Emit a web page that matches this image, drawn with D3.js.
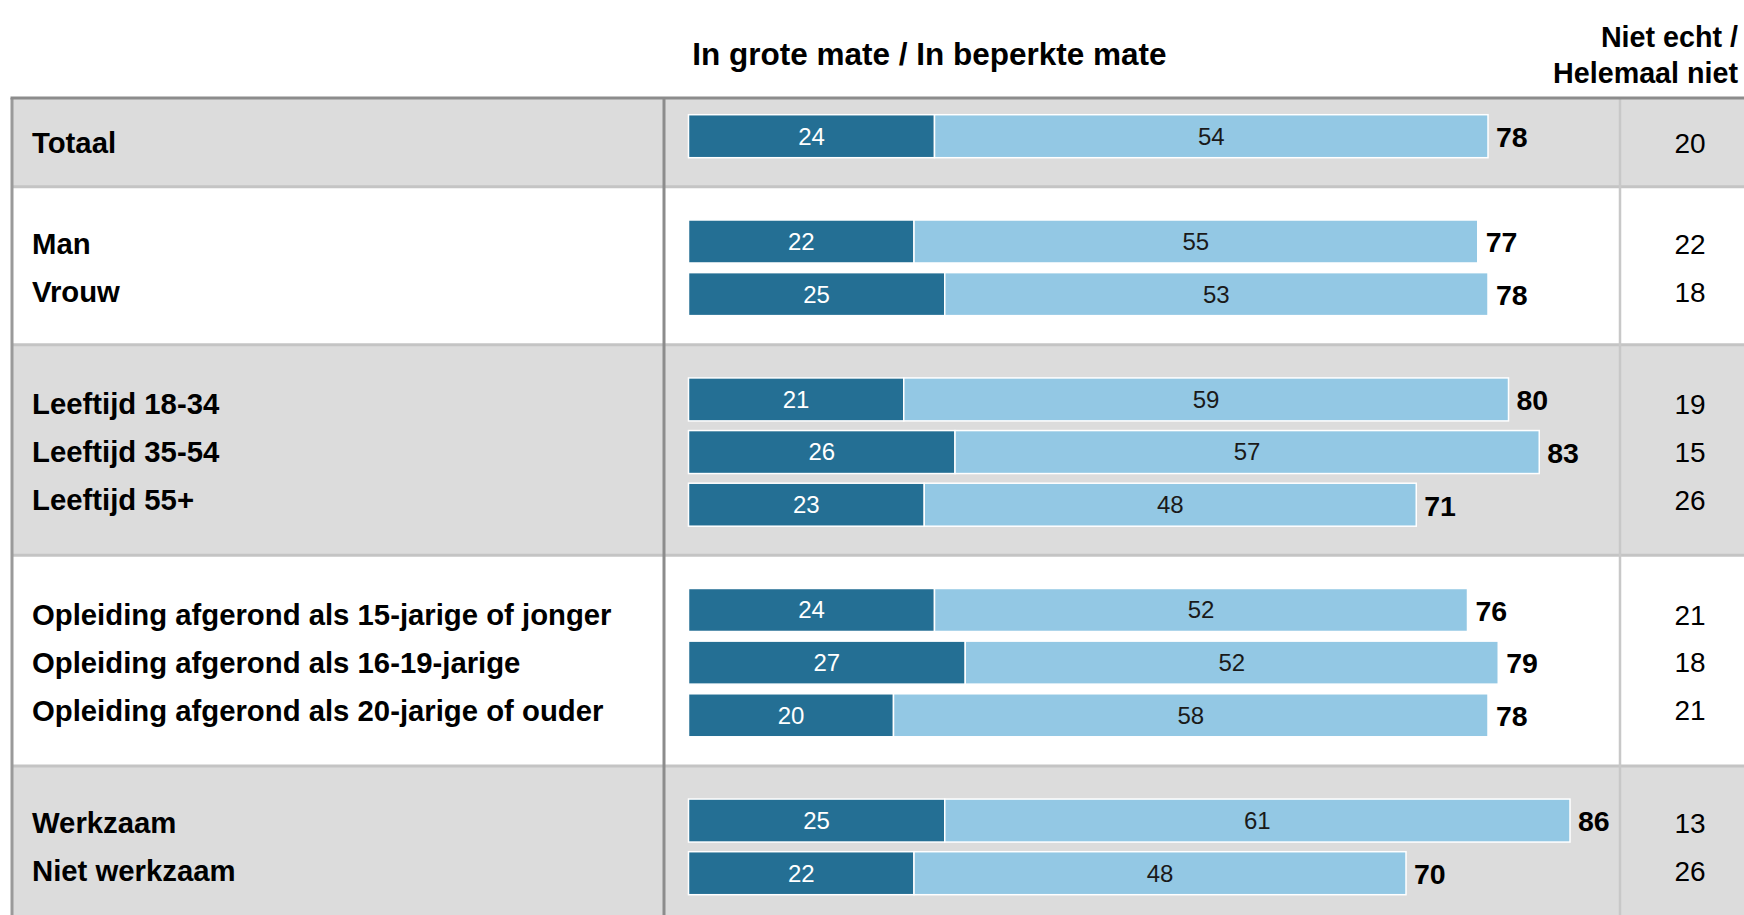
<!DOCTYPE html>
<html>
<head>
<meta charset="utf-8">
<script src="https://cdn.jsdelivr.net/npm/d3@7"></script>
<style>
  body { margin: 0; background: #fff; }
  svg { display: block; font-family: "Liberation Sans", Arial, sans-serif; }
</style>
</head>
<body>
<svg width="1744" height="915"></svg>
<script>
// data
const labels = [
  "Totaal",
  "Man", "Vrouw",
  "Leeftijd 18-34", "Leeftijd 35-54", "Leeftijd 55+",
  "Opleiding afgerond als 15-jarige of jonger",
  "Opleiding afgerond als 16-19-jarige",
  "Opleiding afgerond als 20-jarige of ouder",
  "Werkzaam", "Niet werkzaam"
];
const groupOf = [0, 1, 1, 2, 2, 2, 3, 3, 3, 4, 4];
const inGroteMate = [24, 22, 25, 21, 26, 23, 24, 27, 20, 25, 22];
const inBeperkteMate = [54, 55, 53, 59, 57, 48, 52, 52, 58, 61, 48];
const totaal = [78, 77, 78, 80, 83, 71, 76, 79, 78, 86, 70];
const nietEcht = [20, 22, 18, 19, 15, 26, 21, 18, 21, 13, 26];

const svg = d3.select("svg");
const width = +svg.attr("width");
const height = +svg.attr("height");

const dark = "#246f94", light = "#93c8e4";
const leftX = 12, divX = 664, rightDivX = 1620;

let rows = labels.map((l, i) => ({
  label: l, group: groupOf[i], slot: i + groupOf[i],
  a: inGroteMate[i], b: inBeperkteMate[i], tot: totaal[i], niet: nietEcht[i]
}));

// each group adds one empty slot before it
let y = d3.scaleLinear().domain([0, 14]).range([136.2, 873.2]);
let x = d3.scaleLinear().domain([0, 100]).range([688.5, 1713.5]);
const barH = 43;

// label positions: slightly tighter than bars, centered on group
let groups = d3.groups(rows, d => d.group);
groups.forEach(([g, rs]) => {
  let c = d3.mean(rs, r => y(r.slot));
  rs.forEach((r, j) => {
    r.ly = c + (j - (rs.length - 1) / 2) * 47.9 + (rs.length === 1 ? 7 : 0);
  });
});

// group bands
let bands = groups.map(([g, rs], k) => {
  let first = d3.min(rs, r => r.slot);
  let last = d3.max(rs, r => r.slot);
  let top = k === 0 ? 98 : y(first - 1) - 2;
  let bottom = k === groups.length - 1 ? height : y(last + 1) - 2;
  return {g, top, bottom};
});

svg.append("g").selectAll("rect")
  .data(bands)
  .enter().append("rect")
    .attr("x", leftX)
    .attr("y", d => d.top)
    .attr("width", width - leftX)
    .attr("height", d => d.bottom - d.top)
    .attr("fill", d => d.g % 2 === 0 ? "#dcdcdc" : "#fff");

// separators between groups
svg.append("g").selectAll("line")
  .data(bands.slice(1))
  .enter().append("line")
    .attr("x1", leftX).attr("x2", width)
    .attr("y1", d => d.top).attr("y2", d => d.top)
    .attr("stroke", "#c4c4c4")
    .attr("stroke-width", 3);

// frame
svg.append("line")
  .attr("x1", rightDivX).attr("x2", rightDivX)
  .attr("y1", 98).attr("y2", height)
  .attr("stroke", "#c8c8c8").attr("stroke-width", 2.5);
svg.append("line")
  .attr("x1", divX).attr("x2", divX)
  .attr("y1", 98).attr("y2", height)
  .attr("stroke", "#8c8c8c").attr("stroke-width", 3);
svg.append("line")
  .attr("x1", leftX).attr("x2", leftX)
  .attr("y1", 98).attr("y2", height)
  .attr("stroke", "#9a9a9a").attr("stroke-width", 3);
svg.append("line")
  .attr("x1", leftX - 1.5).attr("x2", width)
  .attr("y1", 98).attr("y2", 98)
  .attr("stroke", "#8c8c8c").attr("stroke-width", 3);

// headers
svg.append("text")
  .attr("x", (x(0) + x(47)) / 2)
  .attr("y", 65)
  .attr("text-anchor", "middle")
  .attr("font-weight", "bold")
  .attr("font-size", 31.5)
  .text("In grote mate / In beperkte mate");

svg.append("text")
  .attr("x", 1738).attr("y", 47)
  .attr("text-anchor", "end")
  .attr("font-weight", "bold")
  .attr("font-size", 28.7)
  .text("Niet echt /");
svg.append("text")
  .attr("x", 1738).attr("y", 83)
  .attr("text-anchor", "end")
  .attr("font-weight", "bold")
  .attr("font-size", 28.7)
  .text("Helemaal niet");

// row labels
svg.append("g").selectAll("text")
  .data(rows)
  .enter().append("text")
    .attr("x", 32)
    .attr("y", d => d.ly)
    .attr("dy", "0.35em")
    .attr("font-weight", "bold")
    .attr("font-size", 29.3)
    .attr("fill", "#000")
    .text(d => d.label);

// bars
let row = svg.append("g").selectAll("g")
  .data(rows)
  .enter().append("g")
    .attr("transform", d => `translate(0, ${y(d.slot)})`);

row.append("rect")
  .attr("x", x(0))
  .attr("y", -barH / 2)
  .attr("width", d => x(d.a) - x(0))
  .attr("height", barH)
  .attr("fill", dark)
  .attr("stroke", "#fff").attr("stroke-width", 1.5);

row.append("rect")
  .attr("x", d => x(d.a))
  .attr("y", -barH / 2)
  .attr("width", d => x(d.a + d.b) - x(d.a))
  .attr("height", barH)
  .attr("fill", light)
  .attr("stroke", "#fff").attr("stroke-width", 1.5);

row.append("text")
  .attr("x", d => (x(0) + x(d.a)) / 2)
  .attr("dy", "0.35em")
  .attr("text-anchor", "middle")
  .attr("font-size", 24)
  .attr("fill", "#fff")
  .text(d => d.a);

row.append("text")
  .attr("x", d => (x(d.a) + x(d.a + d.b)) / 2)
  .attr("dy", "0.35em")
  .attr("text-anchor", "middle")
  .attr("font-size", 24)
  .attr("fill", "#1a1a1a")
  .text(d => d.b);

row.append("text")
  .attr("x", d => x(d.a + d.b) + 8)
  .attr("dy", "0.38em")
  .attr("font-weight", "bold")
  .attr("font-size", 28.5)
  .attr("fill", "#000")
  .text(d => d.tot);

// right column
svg.append("g").selectAll("text")
  .data(rows)
  .enter().append("text")
    .attr("x", 1690)
    .attr("y", d => d.ly)
    .attr("dy", "0.35em")
    .attr("text-anchor", "middle")
    .attr("font-size", 28)
    .attr("fill", "#000")
    .text(d => d.niet);
</script>
</body>
</html>
